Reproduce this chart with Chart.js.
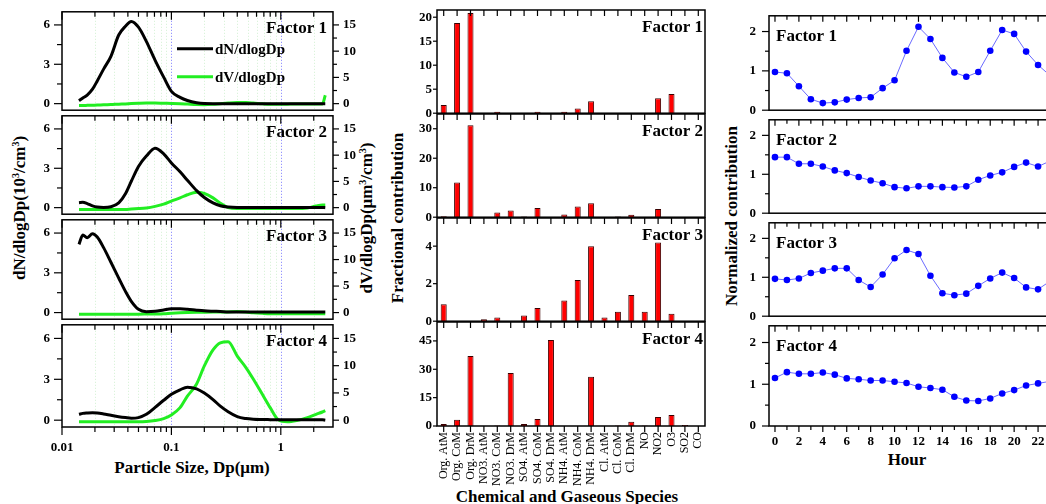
<!DOCTYPE html>
<html>
<head>
<meta charset="utf-8">
<title>Factor profiles</title>
<script src="https://cdn.jsdelivr.net/npm/chart.js@4.4.1/dist/chart.umd.min.js"></script>
<style>
  html, body { margin: 0; padding: 0; background: #fff; }
  body { position: relative; width: 1046px; height: 504px; overflow: hidden; font-family: 'Liberation Serif', 'Times New Roman', serif; }
  canvas { position: absolute; }
  .title { position: absolute; font-weight: bold; font-size: 17px; white-space: nowrap; color: #000; transform: translate(-50%, -50%); }
  .title.rot { transform: translate(-50%, -50%) rotate(-90deg); }
  sup { font-size: 10px; vertical-align: 6px; line-height: 0; }
</style>
</head>
<body>
<div class="title rot" style="left:20px;top:208px">dN/dlogDp(10<sup>3</sup>/cm<sup>3</sup>)</div>
<div class="title rot" style="left:367px;top:218px">dV/dlogDp(&mu;m<sup>3</sup>/cm<sup>3</sup>)</div>
<div class="title rot" style="left:398px;top:218px">Fractional contribution</div>
<div class="title rot" style="left:732px;top:216px">Normalized contribution</div>
<div class="title" style="left:192px;top:468px">Particle Size, Dp(&mu;m)</div>
<div class="title" style="left:567px;top:497px">Chemical and Gaseous Species</div>
<div class="title" style="left:907px;top:460px">Hour</div>
<script>
// --- size distributions (left column) ---
const diameters = [0.0143, 0.0155, 0.017, 0.019, 0.021, 0.024, 0.028, 0.033, 0.038, 0.043, 0.050, 0.059,
  0.071, 0.085, 0.10, 0.12, 0.14, 0.17, 0.20, 0.24, 0.28, 0.33, 0.40, 0.48, 0.56, 0.68, 0.80, 0.95,
  1.15, 1.4, 1.75, 2.1, 2.4, 2.55];

const dN1 = [0.22, 0.43, 0.65, 1.1, 1.73, 2.63, 3.61, 5.23, 5.9, 6.27, 5.83, 4.75, 3.3, 2.02, 0.94, 0.48, 0.24,
  0.07, 0.01, 0, 0, 0, 0, 0, 0, 0, 0, 0, 0, 0, 0, 0, 0, 0];
const dV1 = [-0.35, -0.35, -0.33, -0.3, -0.28, -0.22, -0.18, -0.1, -0.05, 0.02, 0.08, 0.12, 0.12, 0.08, 0.05, 0,
  -0.08, -0.18, -0.2, -0.12, 0, 0.12, 0.2, 0.2, 0.12, -0.04, -0.12, -0.12, -0.1, -0.08, -0.08, -0.06, -0.05, 1.6];

const dN2 = [0.38, 0.41, 0.31, 0.14, 0.05, 0.02, 0.07, 0.36, 1.06, 2.01, 3.14, 3.93, 4.53, 4.1, 3.41, 2.73, 2.09,
  1.3, 0.77, 0.36, 0.14, 0.05, 0.02, 0.02, 0.02, 0.02, 0.02, 0.02, 0.02, 0.02, 0.02, 0.02, 0.02, 0];
const dV2 = [-0.36, -0.36, -0.35, -0.35, -0.34, -0.34, -0.34, -0.34, -0.34, -0.24, -0.18, -0.06, 0.24, 0.66, 1.26,
  1.86, 2.46, 2.94, 2.7, 1.86, 0.84, 0, -0.18, -0.18, -0.18, -0.18, -0.18, -0.18, -0.18, -0.18, -0.06, 0.3, 0.48, 0.48];

const dN3 = [5.15, 5.85, 5.65, 5.95, 5.7, 4.9, 3.8, 2.6, 1.6, 0.85, 0.25, 0.07, 0.1, 0.2, 0.28, 0.28, 0.25, 0.18,
  0.13, 0.1, 0.08, 0.05, 0.05, 0.05, 0.05, 0.05, 0.05, 0.05, 0.05, 0.05, 0.05, 0.05, 0.05, 0.04];
const dV3 = [-0.3, -0.3, -0.3, -0.3, -0.3, -0.3, -0.3, -0.3, -0.3, -0.3, -0.3, -0.28, -0.25, -0.2, -0.12, -0.05,
  0, 0.05, 0.08, 0.1, 0.1, 0.12, 0.18, 0.1, -0.05, -0.15, -0.2, -0.2, -0.2, -0.2, -0.2, -0.2, -0.22, -0.22];

const dN4 = [0.43, 0.5, 0.53, 0.55, 0.53, 0.46, 0.36, 0.26, 0.19, 0.14, 0.19, 0.43, 0.94, 1.46, 1.9, 2.23, 2.42,
  2.3, 1.99, 1.51, 1.03, 0.62, 0.26, 0.12, 0.07, 0.05, 0.04, 0.03, 0.03, 0.03, 0.03, 0.03, 0.03, 0];
const dV4 = [-0.3, -0.3, -0.3, -0.3, -0.3, -0.3, -0.3, -0.3, -0.3, -0.3, -0.3, -0.25, -0.06, 0.3, 0.96, 2.3, 4.4,
  6.65, 9.95, 12.9, 14.2, 14.4, 11.75, 9.65, 7.55, 4.7, 2.3, 0.06, -0.3, -0.06, 0.48, 1.08, 1.5, 1.74];

const dNSeries = [dN1, dN2, dN3, dN4];
const dVSeries = [dV1, dV2, dV3, dV4];
const dNTicks = [0, 1.5, 3, 4.5, 6];
const dVTicks = [0, 2.5, 5, 7.5, 10, 12.5, 15];

// --- species profiles (middle column) ---
const species = ['Org. AtM', 'Org. CoM', 'Org. DrM', 'NO3. AtM', 'NO3. CoM', 'NO3. DrM', 'SO4. AtM', 'SO4. CoM',
  'SO4. DrM', 'NH4. AtM', 'NH4. CoM', 'NH4. DrM', 'Cl. AtM', 'Cl. CoM', 'Cl. DrM', 'NO', 'NO2', 'O3', 'SO2', 'CO'];
const frac1 = [1.7, 18.8, 20.9, 0, 0.3, 0, 0, 0.3, 0, 0.3, 1.0, 2.5, 0, 0, 0, 0, 3.1, 4.0, 0, 0];
const frac2 = [0.3, 11.8, 31.2, 0, 1.6, 2.3, 0.2, 3.1, 0, 0.9, 3.6, 4.7, 0, 0.2, 0.8, 0, 2.8, 0, 0.1, 0];
const frac3 = [0.9, 0, 0, 0.1, 0.2, 0, 0.3, 0.7, 0, 1.1, 2.2, 4.0, 0.2, 0.5, 1.4, 0.5, 4.2, 0.4, 0, 0];
const frac4 = [1.0, 3.3, 37, 0, 0.3, 28, 1.0, 3.7, 45.5, 0, 0, 26, 0, 0.3, 2.2, 0.3, 4.8, 5.8, 0.5, 0];
const fracSeries = [frac1, frac2, frac3, frac4];
const fracTicks = [[0, 5, 10, 15, 20], [0, 10, 20, 30], [0, 2, 4], [0, 15, 30, 45]];
const fracMax = [21.5, 35, 5.5, 55];

// --- diurnal profiles (right column) ---
const hours = [0, 1, 2, 3, 4, 5, 6, 7, 8, 9, 10, 11, 12, 13, 14, 15, 16, 17, 18, 19, 20, 21, 22, 23];
const norm1 = [0.97, 0.94, 0.61, 0.28, 0.18, 0.2, 0.27, 0.31, 0.33, 0.56, 0.76, 1.51, 2.12, 1.81, 1.33, 0.96, 0.85,
  0.97, 1.51, 2.04, 1.94, 1.49, 1.15, 0.88];
const norm2 = [1.44, 1.44, 1.27, 1.27, 1.2, 1.1, 1.03, 0.93, 0.84, 0.77, 0.67, 0.64, 0.69, 0.69, 0.67, 0.66, 0.69,
  0.86, 0.97, 1.05, 1.19, 1.3, 1.2, 1.34];
const norm3 = [0.96, 0.93, 0.97, 1.11, 1.17, 1.23, 1.23, 0.93, 0.75, 1.07, 1.49, 1.7, 1.6, 1.04, 0.59, 0.54, 0.58,
  0.78, 0.97, 1.12, 0.98, 0.74, 0.69, 0.9];
const norm4 = [1.15, 1.29, 1.25, 1.25, 1.28, 1.23, 1.14, 1.12, 1.09, 1.09, 1.06, 1.03, 0.94, 0.91, 0.87, 0.7, 0.61,
  0.6, 0.66, 0.78, 0.86, 0.97, 1.02, 1.07];
const normSeries = [norm1, norm2, norm3, norm4];
const normTicks = [0, 0.5, 1, 1.5, 2];

const factorNames = ['Factor 1', 'Factor 2', 'Factor 3', 'Factor 4'];

// log ticks 0.01 .. 2
const logTicks = [];
[0.01, 0.1, 1].forEach(d => { for (let k = 1; k <= 9; k++) if (d * k < 3) logTicks.push(+(d * k).toPrecision(2)); });
const logMajor = [0.01, 0.1, 1];

const FONT = "'Liberation Serif', 'Times New Roman', serif";
Chart.defaults.font.family = FONT;
Chart.defaults.color = '#000';
const tickFont = { family: FONT, size: 13, weight: 'bold' };

function makeCanvas(left, top, width, height) {
  const c = document.createElement('canvas');
  c.width = width; c.height = height;
  c.style.left = left + 'px'; c.style.top = top + 'px';
  c.style.width = width + 'px'; c.style.height = height + 'px';
  document.body.appendChild(c);
  return c;
}

// frame, tick marks, dotted grid, panel label and legend
function decor(cfg) {
  return {
    id: 'decor',
    beforeDatasetsDraw(chart) {
      if (!cfg.grid) return;
      const ctx = chart.ctx, a = chart.chartArea, xs = chart.scales.x;
      ctx.save();
      ctx.lineWidth = 1;
      ctx.setLineDash([1, 2]);
      cfg.xTicks.forEach(v => {
        const px = Math.round(xs.getPixelForValue(v)) + 0.5;
        if (px <= a.left + 1 || px >= a.right - 1) return;
        ctx.strokeStyle = cfg.xMajor.includes(v) ? '#7a7aff' : '#d2f0d2';
        ctx.beginPath(); ctx.moveTo(px, a.top); ctx.lineTo(px, a.bottom); ctx.stroke();
      });
      ctx.restore();
    },
    afterDraw(chart) {
      const ctx = chart.ctx, a = chart.chartArea, xs = chart.scales.x;
      const line = (x1, y1, x2, y2) => { ctx.beginPath(); ctx.moveTo(x1, y1); ctx.lineTo(x2, y2); ctx.stroke(); };
      ctx.save();
      ctx.strokeStyle = '#000';
      ctx.lineWidth = 1.2;
      cfg.xTicks.forEach(v => {
        const px = xs.getPixelForValue(v);
        if (px < a.left - 0.5 || px > a.right + 0.5) return;
        const len = cfg.xMajor.includes(v) ? cfg.xLen[0] : cfg.xLen[1];
        line(px, a.top, px, a.top + len);
        if (cfg.bottom) line(px, a.bottom, px, a.bottom + len);
      });
      cfg.yAxes.forEach(ax => {
        const s = chart.scales[ax.id];
        const edge = ax.side === 'left' ? a.left : a.right;
        const dir = ax.side === 'left' ? -1 : 1;
        ax.ticks.forEach(v => {
          const py = s.getPixelForValue(v);
          const len = ax.major.includes(v) ? ax.len[0] : ax.len[1];
          line(edge, py, edge + dir * len, py);
        });
      });
      ctx.lineWidth = 1.5;
      ctx.strokeRect(a.left, a.top, a.right - a.left, a.bottom - a.top);

      ctx.fillStyle = '#000';
      ctx.font = `bold 17px ${FONT}`;
      ctx.textBaseline = 'alphabetic';
      if (cfg.labelAlign === 'right') {
        ctx.textAlign = 'right';
        ctx.fillText(cfg.label, a.right - cfg.labelDx, a.top + cfg.labelDy);
      } else {
        ctx.textAlign = 'left';
        ctx.fillText(cfg.label, a.left + cfg.labelDx, a.top + cfg.labelDy);
      }

      if (cfg.legend) {
        chart.data.datasets.forEach((ds, i) => {
          const y = a.top + 37 + i * 28;
          ctx.strokeStyle = ds.borderColor;
          ctx.lineWidth = 3;
          line(a.left + 115, y, a.left + 151, y);
          ctx.font = `bold 15px ${FONT}`;
          ctx.textAlign = 'left';
          ctx.textBaseline = 'middle';
          ctx.fillText(ds.label, a.left + 153, y + 1);
        });
      }
      ctx.restore();
    }
  };
}

const setTicks = vals => s => { s.ticks = vals.map(v => ({ value: v })); };
const fixW = w => s => { s.width = w; };
const fixH = h => s => { s.height = h; };

// --- left column: size distributions ---
const L = { left: 62, right: 333, tops: [10, 114, 218, 323], bottoms: [114, 218, 323, 427], al: 45, ar: 45 };
for (let i = 0; i < 4; i++) {
  const last = i === 3, pt = 10, pb = last ? 50 : 8;
  const h = L.bottoms[i] - L.tops[i];
  const cv = makeCanvas(L.left - L.al, L.tops[i] - pt, L.al + (L.right - L.left) + L.ar, pt + h + pb);
  new Chart(cv, {
    type: 'line',
    data: {
      datasets: [
        { label: 'dN/dlogDp', data: diameters.map((d, k) => ({ x: d, y: dNSeries[i][k] })), yAxisID: 'y',
          borderColor: '#000', borderWidth: 3, pointRadius: 0, cubicInterpolationMode: 'monotone' },
        { label: 'dV/dlogDp', data: diameters.map((d, k) => ({ x: d, y: dVSeries[i][k] })), yAxisID: 'y2',
          borderColor: '#22ee22', borderWidth: 3, pointRadius: 0, cubicInterpolationMode: 'monotone' }
      ]
    },
    options: {
      responsive: false, animation: false,
      layout: { padding: { top: pt, right: 0, bottom: last ? 0 : pb, left: 0 } },
      plugins: { legend: { display: false }, tooltip: { enabled: false } },
      scales: {
        x: {
          type: 'logarithmic', min: 0.01, max: 3,
          afterBuildTicks: setTicks(logTicks), afterFit: fixH(last ? pb : 0),
          grid: { display: false, drawTicks: true, tickLength: 7 }, border: { display: false },
          ticks: { display: last, autoSkip: false, maxRotation: 0, padding: 6, font: tickFont,
            callback: v => { const l = Math.log10(v); return Math.abs(l - Math.round(l)) < 1e-6 ? String(v) : ''; } }
        },
        y: {
          position: 'left', min: -0.5, max: 7,
          afterBuildTicks: setTicks(dNTicks), afterFit: fixW(L.al),
          grid: { display: false, drawTicks: true, tickLength: 8 }, border: { display: false },
          ticks: { padding: 4, font: tickFont, callback: v => (v % 3 === 0 ? String(v) : '') }
        },
        y2: {
          position: 'right', min: -1.25, max: 17.5,
          afterBuildTicks: setTicks(dVTicks), afterFit: fixW(L.ar),
          grid: { display: false, drawTicks: true, tickLength: 6 }, border: { display: false },
          ticks: { padding: 4, font: tickFont, callback: v => (v % 5 === 0 ? String(v) : '') }
        }
      }
    },
    plugins: [decor({
      label: factorNames[i], labelAlign: 'right', labelDx: 6, labelDy: 21, grid: true, legend: i === 0,
      xTicks: logTicks, xMajor: logMajor, xLen: [8, 5], bottom: last,
      yAxes: [
        { id: 'y', side: 'left', ticks: dNTicks, major: [0, 3, 6], len: [8, 5] },
        { id: 'y2', side: 'right', ticks: dVTicks, major: [0, 5, 10, 15], len: [6, 4] }
      ]
    })]
  });
}

// --- middle column: species profiles ---
const M = { left: 437, right: 705, tops: [10, 114, 218, 322], bottoms: [114, 218, 322, 426], al: 45, ar: 10 };
const catIdx = species.map((s, k) => k);
for (let i = 0; i < 4; i++) {
  const last = i === 3, pt = 10, pb = last ? 75 : 8;
  const h = M.bottoms[i] - M.tops[i];
  const cv = makeCanvas(M.left - M.al, M.tops[i] - pt, M.al + (M.right - M.left) + M.ar, pt + h + pb);
  new Chart(cv, {
    type: 'bar',
    data: {
      labels: species,
      datasets: [{ data: fracSeries[i], backgroundColor: '#ff0000', borderColor: '#3a0000', borderWidth: 1,
        barPercentage: 0.9, categoryPercentage: 0.5 }]
    },
    options: {
      responsive: false, animation: false,
      layout: { padding: { top: pt, right: M.ar, bottom: last ? 0 : pb, left: 0 } },
      plugins: { legend: { display: false }, tooltip: { enabled: false } },
      scales: {
        x: {
          afterFit: fixH(last ? pb : 0),
          grid: { display: false, drawTicks: true, tickLength: 5 }, border: { display: false },
          ticks: { display: last, autoSkip: false, maxRotation: 90, minRotation: 90, padding: 1,
            font: { family: FONT, size: 12, weight: 'normal' } }
        },
        y: {
          min: 0, max: fracMax[i],
          afterBuildTicks: setTicks(fracTicks[i]), afterFit: fixW(M.al),
          grid: { display: false, drawTicks: true, tickLength: 4 }, border: { display: false },
          ticks: { padding: 1, font: tickFont }
        }
      }
    },
    plugins: [decor({
      label: factorNames[i], labelAlign: 'right', labelDx: 2, labelDy: 22, grid: false, legend: false,
      xTicks: catIdx, xMajor: catIdx, xLen: [6, 6], bottom: last,
      yAxes: [{ id: 'y', side: 'left', ticks: fracTicks[i], major: fracTicks[i], len: [4, 4] }]
    })]
  });
}

// --- right column: diurnal profiles ---
const R = { left: 769, right: 1056, tops: [12, 116, 219, 322], bottoms: [116, 219, 322, 426], al: 45, ar: 10 };
const evenHours = hours.filter(h => h % 2 === 0);
for (let i = 0; i < 4; i++) {
  const last = i === 3, pt = 10, pb = last ? 40 : 8;
  const h = R.bottoms[i] - R.tops[i];
  const cv = makeCanvas(R.left - R.al, R.tops[i] - pt, R.al + (R.right - R.left) + R.ar, pt + h + pb);
  new Chart(cv, {
    type: 'line',
    data: {
      datasets: [{ data: hours.map((hr, k) => ({ x: hr, y: normSeries[i][k] })), borderColor: '#6a6aff',
        borderWidth: 1, pointRadius: 3.3, pointBackgroundColor: '#0000ff', pointBorderWidth: 0, tension: 0 }]
    },
    options: {
      responsive: false, animation: false,
      layout: { padding: { top: pt, right: R.ar, bottom: last ? 0 : pb, left: 0 } },
      plugins: { legend: { display: false }, tooltip: { enabled: false } },
      scales: {
        x: {
          type: 'linear', min: -0.5, max: 23.5,
          afterBuildTicks: setTicks(hours), afterFit: fixH(last ? pb : 0),
          grid: { display: false, drawTicks: true, tickLength: 6 }, border: { display: false },
          ticks: { display: last, autoSkip: false, maxRotation: 0, padding: 2, font: tickFont,
            callback: v => (v % 2 === 0 ? String(v) : '') }
        },
        y: {
          min: 0, max: 2.4,
          afterBuildTicks: setTicks(normTicks), afterFit: fixW(R.al),
          grid: { display: false, drawTicks: true, tickLength: 7 }, border: { display: false },
          ticks: { padding: 6, font: tickFont, callback: v => (Number.isInteger(v) ? String(v) : '') }
        }
      }
    },
    plugins: [decor({
      label: factorNames[i], labelAlign: 'left', labelDx: 7, labelDy: 25, grid: false, legend: false,
      xTicks: hours, xMajor: evenHours, xLen: [6, 4], bottom: last,
      yAxes: [{ id: 'y', side: 'left', ticks: normTicks, major: [0, 1, 2], len: [7, 4] }]
    })]
  });
}
</script>
</body>
</html>
